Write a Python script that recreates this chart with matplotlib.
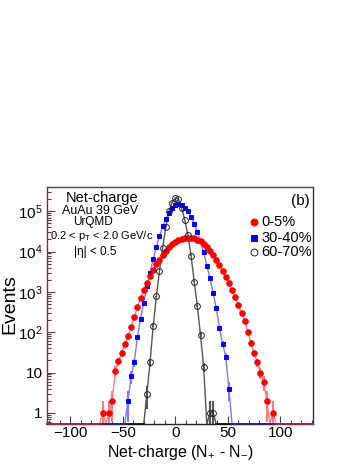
import numpy as np
import matplotlib
matplotlib.use('Agg')
import matplotlib.pyplot as plt
from matplotlib.ticker import FixedLocator, MultipleLocator, NullFormatter, FixedFormatter
from matplotlib.lines import Line2D

plt.rcParams['font.family'] = ['Liberation Sans', 'DejaVu Sans']
plt.rcParams['mathtext.fontset'] = 'custom'
plt.rcParams['mathtext.rm'] = 'Liberation Sans'
plt.rcParams['mathtext.it'] = 'Liberation Sans:italic'
plt.rcParams['mathtext.sf'] = 'Liberation Sans'

# ---------------- data ----------------
bin_width = 3
bin_lo, bin_hi = -120, 129          # histogram range (bin centres)

labels = ['0-5%', '30-40%', '60-70%']

red_start = -69
red_counts = [1, 0, 1, 2, 11, 19, 30, 50, 80, 135, 240, 420, 700, 1100, 1700, 2500,
              3500, 4800, 6300, 8200, 10500, 13000, 15500, 17500, 19500, 20800, 21800,
              22200, 22000, 21200, 19800, 18000, 15800, 13200, 10500, 8200, 6300, 4700,
              3300, 2400, 1650, 1100, 750, 480, 300, 185, 100, 55, 30, 18, 10, 6, 2, 0, 1]

blue_start = -45
blue_counts = [2, 8, 18, 75, 215, 545, 1400, 3000, 6500, 13000, 24000, 42000, 65000,
               92000, 120000, 140000, 150000, 145000, 124000, 100000, 74000, 48000,
               31000, 18000, 9500, 4500, 2200, 950, 400, 130, 52, 25, 4]

black_start = -27
black_counts = [3, 18, 144, 770, 3300, 12500, 40000, 100000, 165000, 215000, 200000,
                120000, 62000, 26000, 8000, 1800, 450, 85, 14, 0, 1, 1]

x_ticks = [-100, -50, 0, 50, 100]
y_ticks = [1, 10, 100, 1e3, 1e4, 1e5]
y_ticklabels = ['1', '10', r'10$^{2}$', r'10$^{3}$', r'10$^{4}$', r'10$^{5}$']

# ---------------- figure ----------------
W, H = 360, 466
fig = plt.figure(figsize=(W / 100, H / 100), dpi=100)
L, R, T, B = 47, 313, 187, 424
ax = fig.add_axes([L / W, 1 - B / H, (R - L) / W, (B - T) / H])
xmin, xmax = -122, 131
ymin, ymax = 0.53, 4.0e5
ax.set_xlim(xmin, xmax)
ax.set_yscale('log')
ax.set_ylim(ymin, ymax)

centres = np.arange(bin_lo, bin_hi + 1, bin_width)


def full(start, counts):
    arr = np.zeros(len(centres))
    i0 = int((start - bin_lo) // bin_width)
    arr[i0:i0 + len(counts)] = counts
    return arr


series = [
    dict(c=full(red_start, red_counts), mk='o', mfc='#ff0000', mec='#ff0000', ms=4.0,
         line='#ff7a7a', floor='#b02a4a', z=3),
    dict(c=full(blue_start, blue_counts), mk='s', mfc='#0000ff', mec='#0000ff', ms=3.4,
         line='#7a7aff', floor='#2a2aa0', z=2),
    dict(c=full(black_start, black_counts), mk='o', mfc='none', mec='#222222', ms=4.2,
         line='#555555', floor='#111111', z=1),
]

xe = np.concatenate([[xmin], centres, [xmax]])
for s in series:
    c = s['c']
    ce = np.concatenate([[0], c, [0]])
    yline = np.where(ce > 0, ce, ymin)
    ax.plot(xe, yline, color=s['line'], lw=1.0, zorder=2 + s['z'] * 0.1, clip_on=False)
    yfloor = np.where(ce > 0, np.nan, ymin)
    ax.plot(xe, yfloor, color=s['floor'], lw=1.2, zorder=4 + s['z'] * 0.1, clip_on=False)
    nz = c > 0
    err = np.sqrt(c[nz])
    lo = np.maximum(c[nz] - err, ymin)
    hi = c[nz] + err
    ax.vlines(centres[nz], lo, hi, color=s['line'], lw=1.5, zorder=2 + s['z'] * 0.1,
              clip_on=False)

# markers: red, blue, black (black on top)
for s, zz in zip(series, [6, 5, 7]):
    c = s['c']
    nz = c > 0
    ax.plot(centres[nz], c[nz], linestyle='none', marker=s['mk'], ms=s['ms'],
            mfc=s['mfc'], mec=s['mec'], mew=0.7, zorder=zz, clip_on=False)

# ---------------- axes styling ----------------
for side in ['left', 'top']:
    ax.spines[side].set_color('#8a2a2a')
ax.spines['right'].set_color('#333333')
ax.spines['bottom'].set_color('#222222')
for sp in ax.spines.values():
    sp.set_linewidth(1.0)

ax.xaxis.set_major_locator(FixedLocator(x_ticks))
ax.xaxis.set_minor_locator(MultipleLocator(10))
ax.yaxis.set_major_locator(FixedLocator(y_ticks))
ax.yaxis.set_major_formatter(FixedFormatter(y_ticklabels))
minor = [m * 10 ** e for e in range(-1, 6) for m in range(2, 10)]
ax.yaxis.set_minor_locator(FixedLocator(minor))
ax.yaxis.set_minor_formatter(NullFormatter())
ax.tick_params(which='both', direction='in', top=False, right=False, color='#444444',
               width=0.8)
ax.tick_params(which='major', length=6, labelsize=11)
ax.tick_params(which='minor', length=3)
ax.tick_params(axis='y', which='major', pad=3)
ax.tick_params(axis='x', which='major', pad=1.5)


def fx(px):
    return px / W


def fy(py):
    return 1 - py / H


# axis titles
fig.text(fx(10), fy(304), 'Events', rotation=90, ha='center', va='center', fontsize=14)
fig.text(fx(180), fy(453), r'Net-charge (N$_{+}$ - N$_{-}$)', ha='center', va='center',
         fontsize=11.5)

# annotation block
fig.text(fx(102), fy(197.5), 'Net-charge', ha='center', va='center', fontsize=10.5)
fig.text(fx(100), fy(211), 'AuAu 39 GeV', ha='center', va='center', fontsize=9)
fig.text(fx(93), fy(222.5), 'UrQMD', ha='center', va='center', fontsize=8.5)
fig.text(fx(102), fy(236), r'0.2 < p$_{\mathregular{T}}$ < 2.0 GeV/c', ha='center',
         va='center', fontsize=8)
fig.text(fx(95), fy(252), '|η| < 0.5', ha='center', va='center', fontsize=8.5)
fig.text(fx(300), fy(201), '(b)', ha='center', va='center', fontsize=11)

# legend
leg_y = [221.7, 238, 251.7]
leg_style = [('o', '#ff0000', '#ff0000', 5.0), ('s', '#0000ff', '#0000ff', 4.6),
             ('o', 'none', '#222222', 5.0)]
for lab, yy, (mk, fc, ec, ms) in zip(labels, leg_y, leg_style):
    fig.add_artist(Line2D([fx(254)], [fy(yy)], marker=mk, ms=ms, mfc=fc, mec=ec,
                          mew=0.7, linestyle='none', transform=fig.transFigure))
    fig.text(fx(261), fy(yy), lab, ha='left', va='center', fontsize=10.5)

fig.savefig('out.png', dpi=100)
